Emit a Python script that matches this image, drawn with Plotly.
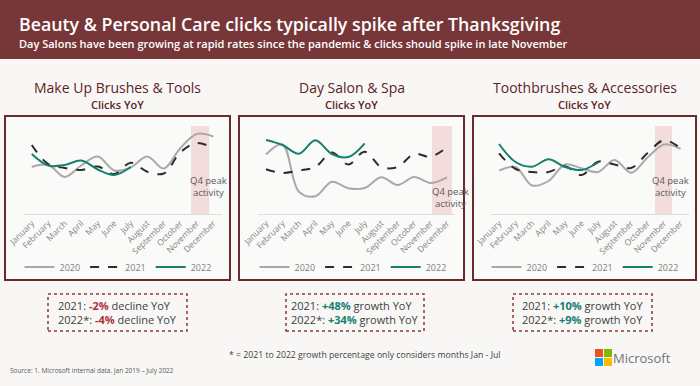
import plotly.graph_objects as go

W, H = 700, 386

months = ["January", "February", "March", "April", "May", "June", "July",
          "August", "September", "October", "November", "December"]
months_2022 = months[:7]

panel_titles = ["Make Up Brushes & Tools", "Day Salon & Spa", "Toothbrushes & Accessories"]

# Panel 1: Make Up Brushes & Tools (relative click index)
makeup_2020 = [47, 49, 37, 48.5, 57.5, 43.5, 46.5, 57.5, 45.5, 65.7, 80, 77.5]
makeup_2021 = [69, 50, 46, 44, 47.5, 40, 51.3, 42.3, 40.5, 61.5, 71, 65.7]
makeup_2022 = [60, 48.5, 49, 53.5, 44.5, 39, 47]

# Panel 2: Day Salon & Spa
salon_2020 = [59.5, 69.5, 22.3, 17.7, 32.3, 25.7, 26, 36.7, 29, 37, 31, 36.7]
salon_2021 = [44.7, 41, 43.5, 47, 61.5, 49.5, 62.3, 47, 47, 60, 57.3, 66.7]
salon_2022 = [74, 69, 60.3, 73.7, 60, 57, 70.7]

# Panel 3: Toothbrushes & Accessories
tooth_2020 = [43.3, 47, 28.5, 33, 49.5, 45.7, 42, 54, 41.3, 56.5, 69.5, 65.2]
tooth_2021 = [60.7, 45, 42, 42, 47.7, 39, 52.3, 49.5, 46, 61, 73.7, 65.7]
tooth_2022 = [70, 52, 47.3, 54.7, 47, 44, 51.5]

growth_2021 = ["-2%", "+48%", "+10%"]
growth_2022 = ["-4%", "+34%", "+9%"]

series = [
    (makeup_2020, makeup_2021, makeup_2022),
    (salon_2020, salon_2021, salon_2022),
    (tooth_2020, tooth_2021, tooth_2022),
]

MAROON = "#773637"
DARK_MAROON = "#5e2323"
TEAL = "#16806f"
GRAY = "#a9a9a9"
DASH = "#2a2f2e"
RED = "#a8323a"
BG = "#f8f7f6"

def px(x):
    return x / W

def py(y):
    return 1 - y / H

# layout geometry (pixels)
x_domains = [(23.5, 221.5), (257.8, 455.2), (490.8, 688.8)]
y_dom = (214, 126)
frames = [(5, 230), (239, 464), (473, 696)]
bands = [(9.65, 10.75), (10.09, 11.3), (9.45, 10.48)]
q4_text_x = [208, 450, 670]
q4_text_y = [187, 197, 187]
legend_x = [118, 353, 585]
boxes = [(48, 187), (286, 424), (513, 652)]

fig = go.Figure()

for i, (s20, s21, s22) in enumerate(series):
    ax = "" if i == 0 else str(i + 1)
    lg = "legend" if i == 0 else f"legend{i + 1}"
    fig.add_trace(go.Scatter(x=months, y=s20, name="2020", mode="lines",
                             line=dict(color=GRAY, width=2, shape="spline", smoothing=1),
                             xaxis="x" + ax, yaxis="y" + ax, legend=lg))
    fig.add_trace(go.Scatter(x=months, y=s21, name="2021", mode="lines",
                             line=dict(color=DASH, width=2, dash="dash", shape="spline", smoothing=1),
                             xaxis="x" + ax, yaxis="y" + ax, legend=lg))
    fig.add_trace(go.Scatter(x=months_2022, y=s22, name="2022", mode="lines",
                             line=dict(color=TEAL, width=2, shape="spline", smoothing=1),
                             xaxis="x" + ax, yaxis="y" + ax, legend=lg))

layout = dict(
    width=W, height=H,
    template="none",
    margin=dict(l=0, r=0, t=0, b=0, autoexpand=False),
    paper_bgcolor=BG, plot_bgcolor="rgba(0,0,0,0)",
    font=dict(family="Open Sans, sans-serif", color="#595959"),
    shapes=[], annotations=[],
)

for i in range(3):
    ax = "" if i == 0 else str(i + 1)
    xd = x_domains[i]
    layout["xaxis" + ax] = dict(
        domain=[px(xd[0]), px(xd[1])], range=[-0.5, 11.5], type="category",
        categoryorder="array", categoryarray=months, automargin=False,
        anchor="y" + ax, showgrid=False, zeroline=False,
        showline=True, linecolor="#dcdcdc", linewidth=1,
        tickangle=-45, tickfont=dict(size=8.5, color="#858585"), ticks="",
    )
    layout["yaxis" + ax] = dict(
        domain=[py(y_dom[0]), py(y_dom[1])], range=[0, 88], automargin=False,
        anchor="x" + ax, showgrid=False, zeroline=False, showticklabels=False,
        showline=False,
    )
    lg = "legend" if i == 0 else f"legend{i + 1}"
    layout[lg] = dict(
        orientation="h", x=px(legend_x[i]), y=py(267), xanchor="center", yanchor="middle",
        font=dict(size=9, color="#808080"), bgcolor="rgba(0,0,0,0)",
        itemwidth=30, tracegroupgap=0,
    )
    # Q4 band
    xr = "x" + ax
    yr = "y" + ax
    layout["shapes"].append(dict(type="rect", xref=xr, yref=yr,
                                 x0=bands[i][0], x1=bands[i][1], y0=0, y1=88,
                                 fillcolor="#f3dcdc", line=dict(width=0), layer="below"))
    # frame
    fx0, fx1 = frames[i]
    layout["shapes"].append(dict(type="rect", xref="paper", yref="paper",
                                 x0=px(fx0), x1=px(fx1), y0=py(280), y1=py(116),
                                 line=dict(color="#6a2b2c", width=2), fillcolor="rgba(255,255,255,0.35)",
                                 layer="below"))
    # text boxes
    bx0, bx1 = boxes[i]
    layout["shapes"].append(dict(type="rect", xref="paper", yref="paper",
                                 x0=px(bx0), x1=px(bx1), y0=py(331), y1=py(294),
                                 line=dict(color="#8a3b3d", width=1.5, dash="dot")))
    col = RED if growth_2021[i].startswith("-") else TEAL
    word = "decline" if growth_2021[i].startswith("-") else "growth"
    txt = (f"2021: <span style='color:{col}'><b>{growth_2021[i]}</b></span> {word} YoY<br>"
           f"2022*: <span style='color:{col}'><b>{growth_2022[i]}</b></span> {word} YoY")
    layout["annotations"].append(dict(text=txt, xref="paper", yref="paper",
                                      x=px((bx0 + bx1) / 2), y=py(312.5), xanchor="center", yanchor="middle",
                                      align="left", showarrow=False,
                                      font=dict(size=11, color="#404040")))
    # panel titles
    cx = (fx0 + fx1) / 2
    layout["annotations"].append(dict(text=panel_titles[i], xref="paper", yref="paper",
                                      x=px(cx), y=py(87), xanchor="center", yanchor="middle",
                                      showarrow=False, font=dict(size=14, color=DARK_MAROON)))
    layout["annotations"].append(dict(text="Clicks YoY", xref="paper", yref="paper",
                                      x=px(cx), y=py(104.5), xanchor="center", yanchor="middle",
                                      showarrow=False, font=dict(size=11, color=DARK_MAROON, weight=600)))
    layout["annotations"].append(dict(text="Q4 peak<br>activity", xref="paper", yref="paper",
                                      x=px(q4_text_x[i]), y=py(q4_text_y[i]), xanchor="center",
                                      yanchor="middle", showarrow=False,
                                      font=dict(size=9.5, color="#595959")))

# header banner
layout["shapes"].insert(0, dict(type="rect", xref="paper", yref="paper", x0=0, x1=1,
                                y0=py(59), y1=1, fillcolor=MAROON, line=dict(width=0), layer="below"))
layout["annotations"].append(dict(text="Beauty & Personal Care clicks typically spike after Thanksgiving",
                                  xref="paper", yref="paper", x=px(17), y=py(24), xanchor="left",
                                  yanchor="middle", showarrow=False,
                                  font=dict(size=17.8, color="white", weight=600)))
layout["annotations"].append(dict(text="Day Salons have been growing at rapid rates since the pandemic & clicks should spike in late November",
                                  xref="paper", yref="paper", x=px(17), y=py(44), xanchor="left",
                                  yanchor="middle", showarrow=False,
                                  font=dict(size=11, color="white", weight=600)))

# footnotes
layout["annotations"].append(dict(text="* = 2021 to 2022 growth percentage only considers months Jan - Jul",
                                  xref="paper", yref="paper", x=px(365), y=py(355), xanchor="center",
                                  yanchor="middle", showarrow=False,
                                  font=dict(size=8.7, color="#404040")))
layout["annotations"].append(dict(text="Source: 1. Microsoft internal data. Jan 2019 – July 2022",
                                  xref="paper", yref="paper", x=px(8), y=py(370), xanchor="left",
                                  yanchor="middle", showarrow=False,
                                  font=dict(size=6.5, color="#595959")))
# Microsoft logo
logo_cols = [("#f25022", 0, 0), ("#7fba00", 1, 0), ("#00a4ef", 0, 1), ("#ffb900", 1, 1)]
lx, ly, sq, gap = 595, 349, 8, 1
for c, cx_, cy_ in logo_cols:
    x0 = lx + cx_ * (sq + gap)
    y0 = ly + cy_ * (sq + gap)
    layout["shapes"].append(dict(type="rect", xref="paper", yref="paper",
                                 x0=px(x0), x1=px(x0 + sq), y0=py(y0 + sq), y1=py(y0),
                                 fillcolor=c, line=dict(width=0)))
layout["annotations"].append(dict(text="Microsoft", xref="paper", yref="paper",
                                  x=px(611), y=py(358), xanchor="left", yanchor="middle",
                                  showarrow=False, font=dict(size=13, color="#737373")))

fig.update_layout(**layout)
fig.write_html("out.html",
               config={"displayModeBar": False},
               post_script="document.body.style.margin='0';document.body.style.overflow='hidden';")
